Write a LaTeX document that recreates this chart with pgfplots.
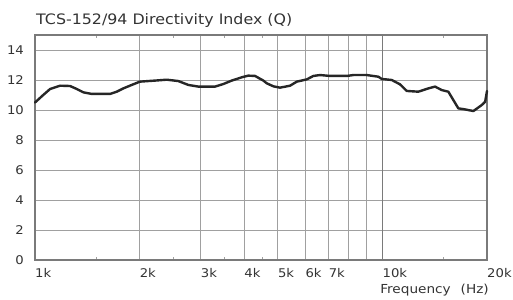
\documentclass[border=0pt]{standalone}
\usepackage{pgfplots}
\pgfplotsset{compat=1.18}
\usepackage{fontspec}
\setmainfont{DejaVu Sans}[FakeStretch=1.1]
\definecolor{txt}{HTML}{333333}
\definecolor{gridc}{HTML}{A0A0A0}
\definecolor{frame}{HTML}{7A7A7A}
\definecolor{curve}{HTML}{262626}
\begin{document}
\begin{tikzpicture}
\begin{axis}[
  name=ax,
  at={(0,0)}, anchor=south west,
  scale only axis,
  width=452bp, height=225bp,
  xmode=log,
  xmin=1000, xmax=20000,
  ymin=0, ymax=15,
  xtick={1000,2000,3000,4000,5000,6000,7000,8000,9000},
  xticklabels={1k,2k,3k,4k,5k,6k,7k,,},
  extra x ticks={10000,20000},
  extra x tick labels={10k,20k},
  extra x tick style={grid style={draw=frame, line width=1.3bp}},
  minor xtick={1500,2500,3500,4500,15000},
  minor tick length=3bp,
  major tick length=0pt,
  ytick={0,2,4,6,8,10,12,14},
  grid=major,
  grid style={draw=gridc, line width=0.9bp},
  axis line style={draw=frame, line width=1.2bp},
  tick style={draw=gridc, line width=0.8bp},
  tick align=inside,
  xtick pos=both,
  log ticks with fixed point,
  xticklabel style={anchor=base west, inner sep=0pt, yshift=-18bp, font=\fontsize{12bp}{14bp}\selectfont, text=txt},
  yticklabel style={anchor=east, inner sep=0pt, xshift=-11bp, font=\fontsize{12bp}{14bp}\selectfont, text=txt},
  /pgf/number format/assume math mode=true,
  clip=false,
]
\addplot[draw=curve, line width=2.4bp, line join=round, line cap=round] coordinates {
(1000,10.5)(1056,11.0)(1105,11.4)(1180,11.62)(1261,11.6)(1319,11.4)(1377,11.18)(1456,11.07)
(1644,11.07)(1719,11.22)(1796,11.44)(1898,11.67)(2005,11.89)(2119,11.93)(2215,11.96)(2394,12.02)
(2585,11.93)(2763,11.67)(2952,11.56)(3297,11.56)(3483,11.73)(3683,11.96)(3936,12.18)(4111,12.29)
(4299,12.27)(4542,11.96)(4645,11.78)(4853,11.58)(5074,11.49)(5420,11.62)(5667,11.89)(6055,12.04)
(6327,12.27)(6613,12.33)(7067,12.27)(7894,12.27)(8247,12.33)(9013,12.33)(9732,12.22)(9954,12.07)
(10636,12.0)(11236,11.71)(11749,11.27)(12686,11.22)(13556,11.44)(14171,11.56)(14814,11.33)(15476,11.22)
(16539,10.11)(17290,10.04)(18272,9.93)(19313,10.33)(19750,10.55)(20000,11.27)
};
\end{axis}
\path ([xshift=-35bp,yshift=35bp]ax.north west) rectangle ([xshift=26bp,yshift=-40bp]ax.south east);
\node[anchor=base west, inner sep=0pt, text=txt, font=\fontsize{14.4bp}{17bp}\selectfont] at ([xshift=1bp,yshift=10bp]ax.north west) {TCS-152/94 Directivity Index (Q)};
\node[anchor=base east, inner sep=0pt, text=txt, font=\fontsize{12.4bp}{14bp}\selectfont] at ([xshift=2bp,yshift=-33bp]ax.south east) {Frequency\hspace{10bp}(Hz)};
\end{tikzpicture}
\end{document}
